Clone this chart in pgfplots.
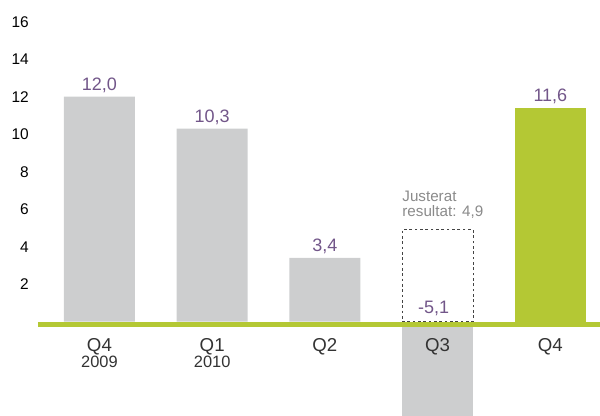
\documentclass[border=0pt]{standalone}
\usepackage{pgfplots}
\pgfplotsset{compat=1.18}
\usepackage{fontspec}
\setmainfont{Liberation Sans}
\definecolor{barg}{HTML}{CDCECF}
\definecolor{lime}{RGB}{180,200,52}
\definecolor{vlab}{HTML}{725689}
\definecolor{catcol}{HTML}{333333}
\definecolor{notecol}{HTML}{8A8A8A}
\definecolor{dashcol}{HTML}{444444}
\newcommand\yearfont{\fontsize{12.3}{11}\selectfont}
\newcommand\valfont{\fontsize{13.5}{15}\selectfont}
\begin{document}
\begin{tikzpicture}
\begin{axis}[
  name=ax,
  scale only axis,
  width=421.5pt, height=312pt,
  xmin=-0.545, xmax=4.44, ymin=-5.03, ymax=17.16,
  ybar, bar width=0.63,
  axis line style={draw=none},
  major tick length=0pt,
  ytick={2,4,...,16},
  xtick={0,1,2,3,4},
  xticklabels={{Q4\\{\yearfont 2009}},{Q1\\{\yearfont 2010}},{Q2},{Q3},{Q4}},
  /pgf/number format/assume math mode=true,
  yticklabel style={font=\fontsize{11.6}{13}\selectfont, text=black, inner sep=0pt, xshift=-6.75pt},
  xticklabel style={align=center, font=\fontsize{14}{11}\selectfont, text=catcol, anchor=north, inner sep=0pt, yshift=58.5pt},
  extra y ticks={-0.14},
  extra y tick labels={},
  extra y tick style={grid=major, major grid style={draw=lime, line width=4pt}},
  axis on top,
  every node near coord/.append style={font=\valfont, text=vlab, anchor=base, inner sep=0pt, yshift=4.5pt},
]
% gray bars with value labels
\addplot[fill=barg, draw=none, bar shift=0pt, nodes near coords, point meta=explicit symbolic]
  coordinates {(0,12.0) [12,0] (1,10.3) [10,3] (2,3.4) [3,4]};
% negative Q3 bar
\addplot[fill=barg, draw=none, bar shift=0pt] coordinates {(3,-5.1)};
% adjusted result (dashed)
\addplot[fill=none, draw=dashcol, line width=0.6pt, dash pattern=on 2pt off 2pt, bar shift=0pt] coordinates {(3,4.9)};
% green Q4 bar
\addplot[fill=lime, draw=none, bar shift=0pt, nodes near coords, point meta=explicit symbolic]
  coordinates {(4,11.4) [11,6]};
\node[anchor=base, font=\valfont, text=vlab, inner sep=0pt, yshift=6.3pt, xshift=-3pt] at (axis cs:3,0) {-5,1};
\node[anchor=base west, font=\fontsize{11.4}{13}\selectfont, text=notecol, inner sep=0pt, yshift=10.05pt] at (axis cs:2.685,4.9) {resultat: 4,9};
\node[anchor=base west, font=\fontsize{11.4}{13}\selectfont, text=notecol, inner sep=0pt, yshift=21.3pt] at (axis cs:2.685,4.9) {Justerat};
\end{axis}
\pgfresetboundingbox
\path[use as bounding box] ([xshift=-28.5pt]ax.south west) rectangle (ax.north east);
\end{tikzpicture}
\end{document}
